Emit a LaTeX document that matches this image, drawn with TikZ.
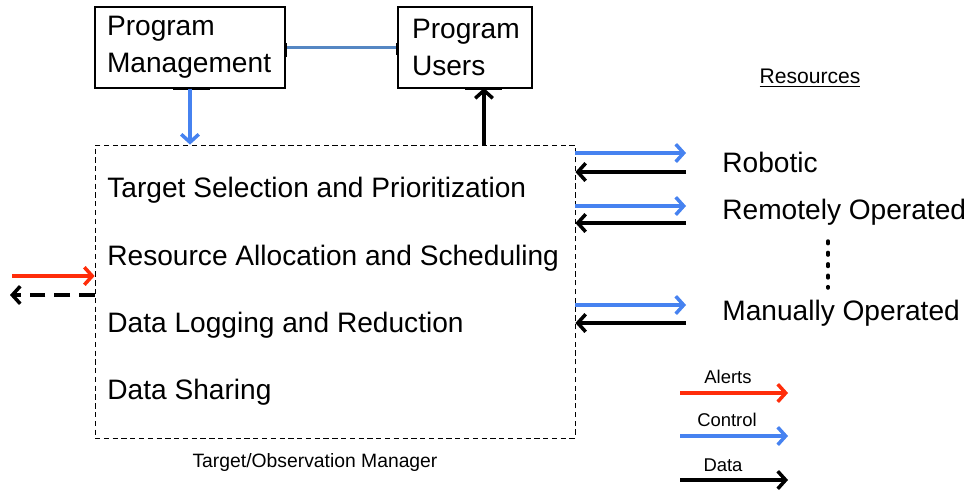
\documentclass[tikz,border=0pt]{standalone}
\usepackage{fontspec}
\setmainfont{Liberation Sans}
\usetikzlibrary{arrows.meta, positioning, calc}
\definecolor{alertred}{RGB}{255,45,10}
\definecolor{ctrlblue}{RGB}{70,130,240}
\definecolor{linkblue}{RGB}{85,135,195}

\begin{document}
\begin{tikzpicture}[x=0.02cm, y=-0.02cm,
    flow/.style={line width=2pt, -{Straight Barb[length=4.5pt, width=10pt]}},
    alert/.style={flow, draw=alertred},
    ctrl/.style={flow, draw=ctrlblue},
    data/.style={flow, draw=black},
    tick/.style={line width=1.3pt},
    box/.style={draw, line width=0.6pt, inner ysep=0pt, align=left,
                font=\fontsize{16}{21}\selectfont},
    task/.style={anchor=west, inner sep=0pt, font=\fontsize{16}{19}\selectfont},
    caption/.style={inner sep=0pt, font=\fontsize{11}{13}\selectfont},
    legend/.style={inner sep=0pt, font=\fontsize{10.5}{12}\selectfont}]

    % Bounding box of the picture
    \useasboundingbox (0,0) rectangle (970,491);

    % Program boxes
    \node[box, minimum width=3.8cm, minimum height=1.62cm, text width=3.32cm, inner xsep=0.24cm] (pm) at (190,47.5) {Program\\Management};
    \node[box, minimum width=2.68cm, minimum height=1.62cm, text width=2.12cm, inner xsep=0.28cm] (pu) at (465,47.5) {Program\\Users};
    \draw[linkblue, line width=2.2pt] (pm.east) -- (pu.west); % link between the boxes

    % Small marks on the box edges
    \draw[tick] ([xshift=-0.34cm]pm.south) -- ++(37,0);
    \draw[tick] (pu.south) -- ++(37,0);
    \draw[tick] ([yshift=0.09cm]pm.east) -- ++(0,14);
    \draw[tick] ([yshift=0.09cm]pu.west) -- ++(0,12);

    % Manager box
    \node[draw, densely dashed, line width=0.5pt, minimum width=9.6cm, minimum height=5.86cm, inner sep=0pt] (tom) at (335,291.5) {};
    \node[caption] (tomlabel) at (315,462) {Target/Observation Manager};

    % Tasks of the manager
    \node[task] (sel) at (107,190) {Target Selection and Prioritization};
    \node[task] (alloc) at (107,258) {Resource Allocation and Scheduling};
    \node[task] (log) at (107,325) {Data Logging and Reduction};
    \node[task] (share) at (107,392) {Data Sharing};

    % Arrows to and from the program boxes
    \draw[ctrl] (pm.south) -- (pm.south |- tom.north);
    \coordinate (puin) at (484,88);
    \draw[data] (puin |- tom.north) -- (puin);

    % Arrows on the left side
    \coordinate (ain) at (12,276);
    \coordinate (aout) at (10,295);
    \draw[alert] (ain) -- (ain -| tom.west);
    \draw[data, dash pattern=on 9pt off 5pt] (aout -| tom.west) -- (aout);

    % Resources
    \node[caption, font=\fontsize{12}{14}\selectfont] (res) at (810,78) {\underline{Resources}};
    \node[task] (rob) at (722,162) {Robotic};
    \node[task] (rem) at (722,212) {Remotely Operated};
    \node[task] (man) at (722,313) {Manually Operated};
    \draw[line width=2pt, dash pattern=on 1.5pt off 5pt, line cap=round] (828,241) -- (828,288); % more resources

    % Arrows to and from the resources
    \coordinate (r1) at (686,153);
    \coordinate (r2) at (686,172);
    \coordinate (r3) at (686,206);
    \coordinate (r4) at (686,223);
    \coordinate (r5) at (686,305);
    \coordinate (r6) at (686,323);
    \draw[ctrl] (r1 -| tom.east) -- (r1);
    \draw[data] (r2) -- (r2 -| tom.east);
    \draw[ctrl] (r3 -| tom.east) -- (r3);
    \draw[data] (r4) -- (r4 -| tom.east);
    \draw[ctrl] (r5 -| tom.east) -- (r5);
    \draw[data] (r6) -- (r6 -| tom.east);

    % Legend
    \node[legend] (lalert) at (728,377) {Alerts};
    \node[legend] (lctrl) at (727,420) {Control};
    \node[legend] (ldata) at (723,465) {Data};
    \coordinate (l1) at (680,393);
    \coordinate (l2) at (680,436);
    \coordinate (l3) at (680,480);
    \draw[alert] (l1) -- ++(108,0);
    \draw[ctrl] (l2) -- ++(108,0);
    \draw[data] (l3) -- ++(108,0);

\end{tikzpicture}
\end{document}
